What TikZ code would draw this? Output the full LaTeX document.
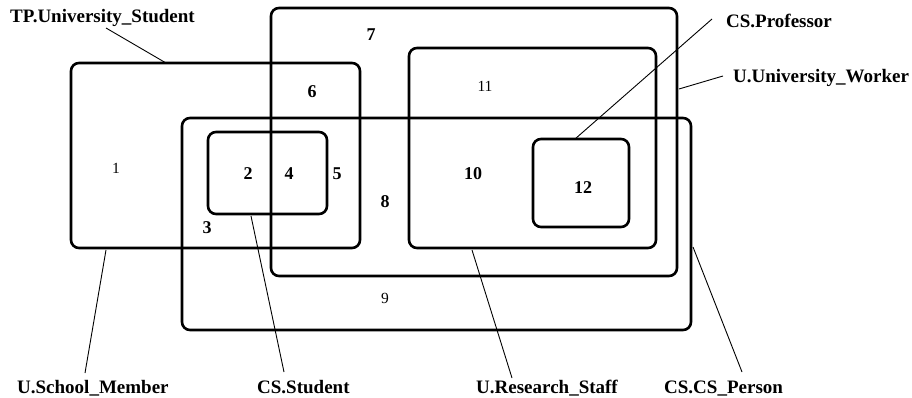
\documentclass[tikz,border=0pt]{standalone}
\usepackage{fontspec}
\setmainfont{Liberation Serif}
\usetikzlibrary{fit}
\begin{document}
\begin{tikzpicture}[x=1pt,y=-1pt,
  region/.style={draw=black, line width=2.6pt, rounded corners=8pt, inner sep=0pt},
  setname/.style={font=\fontsize{19}{22}\selectfont\bfseries, inner sep=0pt, anchor=base west},
  bnum/.style={font=\fontsize{18}{20}\selectfont\bfseries, inner sep=0pt},
  rnum/.style={font=\fontsize{15.5}{17}\selectfont, inner sep=0pt},
  pointer/.style={draw=black, line width=0.9pt}]
\useasboundingbox (0,0) rectangle (912,398);

% sets
\node[region, fit={(71,63) (360,248)}] (sm) {};
\node[region, fit={(271,8) (677,276)}] (uw) {};
\node[region, fit={(182,118) (691,330)}] (csp) {};
\node[region, fit={(208,132) (327,214)}] (cst) {};
\node[region, fit={(409,48) (656,248)}] (rs) {};
\node[region, fit={(533,139) (629,227)}] (prof) {};

% region numbers
\node[rnum] (n1) at (116,168) {1};
\node[bnum] (n2) at (248,174) {2};
\node[bnum] (n3) at (207,228) {3};
\node[bnum] (n4) at (289,174) {4};
\node[bnum] (n5) at (337,174) {5};
\node[bnum] (n6) at (312,92) {6};
\node[bnum] (n7) at (371,35) {7};
\node[bnum] (n8) at (385,202) {8};
\node[rnum] (n9) at (385,298) {9};
\node[bnum] (n10) at (473,174) {10};
\node[rnum] (n11) at (485,86) {11};
\node[bnum] (n12) at (583,188) {12};

% set names
\node[setname] (ltp) at (10,23) {TP.University\_Student};
\node[setname] (lprof) at (726,28) {CS.Professor};
\node[setname] (luw) at (733,83) {U.University\_Worker};
\node[setname] (lsm) at (17,393) {U.School\_Member};
\node[setname] (lcst) at (257,393) {CS.Student};
\node[setname] (lrs) at (476,393) {U.Research\_Staff};
\node[setname] (lcsp) at (664,393) {CS.CS\_Person};

% pointer ends
\coordinate (ptp) at (106,28);   \coordinate (etp) at (166,63);
\coordinate (pprof) at (712,19); \coordinate (eprof) at (575,139);
\coordinate (puw) at (723,76);   \coordinate (euw) at (679,89);
\coordinate (psm) at (85,373);   \coordinate (esm) at (106,250);
\coordinate (pcst) at (284,372); \coordinate (ecst) at (251,216);
\coordinate (prs) at (512,378);  \coordinate (ers) at (472,250);
\coordinate (pcsp) at (742,372); \coordinate (ecsp) at (693,247);

\draw[pointer] (ptp) -- (etp);
\draw[pointer] (pprof) -- (eprof);
\draw[pointer] (puw) -- (euw);
\draw[pointer] (psm) -- (esm);
\draw[pointer] (pcst) -- (ecst);
\draw[pointer] (prs) -- (ers);
\draw[pointer] (pcsp) -- (ecsp);
\end{tikzpicture}
\end{document}
